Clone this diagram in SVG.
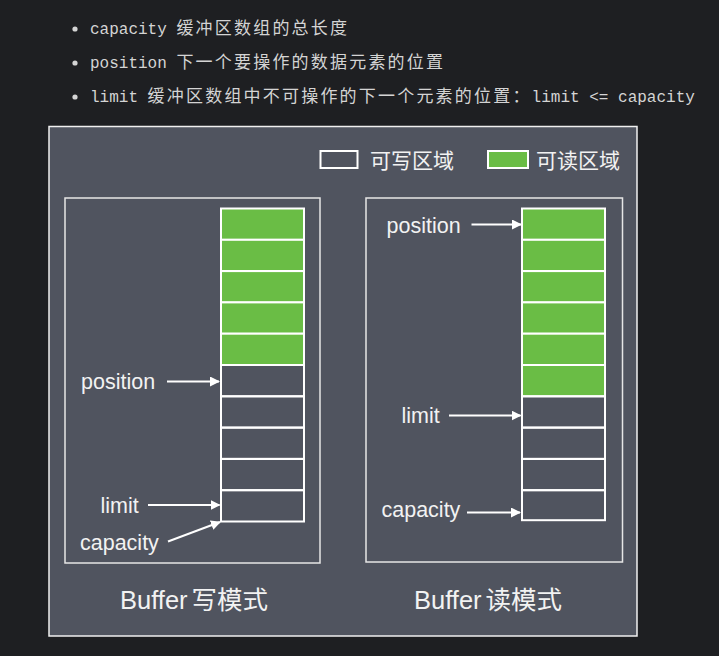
<svg xmlns="http://www.w3.org/2000/svg" width="719" height="656" viewBox="0 0 719 656">
<style>
.bul{font-family:"Liberation Mono","DejaVu Sans Mono",monospace;font-size:16px;fill:#d4d4d4}
.cjk{font-family:"Noto Sans CJK SC",sans-serif;font-size:17px;letter-spacing:2.2px}
.lbl{font-family:"Liberation Sans",Arial,sans-serif;font-size:21.5px;fill:#f2f2f2}
.ttl{font-family:"Liberation Sans",Arial,"Noto Sans CJK SC",sans-serif;font-size:25.5px;fill:#f2f2f2}
.ttlc{font-family:"Noto Sans CJK SC",sans-serif;font-size:25.5px}
.leg{font-family:"Noto Sans CJK SC",sans-serif;font-size:21px;fill:#f2f2f2}
.g{fill:#6abd45;stroke:#ffffff;stroke-width:2}
.e{fill:none;stroke:#ffffff;stroke-width:2}
.box{fill:none;stroke:#e6e6e6;stroke-width:1.5}
.arr{stroke:#ffffff;stroke-width:2;fill:none;marker-end:url(#ah)}
</style>
<defs>
<marker id="ah" viewBox="0 0 10 10" refX="9" refY="5" markerWidth="5" markerHeight="5" orient="auto" markerUnits="strokeWidth">
<path d="M0,0 L10,5 L0,10 z" fill="#ffffff"/>
</marker>
</defs>
<rect x="0" y="0" width="719" height="656" fill="#1e1f22"/>
<g id="bullets">
<circle cx="75" cy="29" r="2.6" fill="#d4d4d4"/>
<circle cx="75" cy="63" r="2.6" fill="#d4d4d4"/>
<circle cx="75" cy="97" r="2.6" fill="#d4d4d4"/>
<text class="bul" x="90" y="34">capacity <tspan class="cjk">缓冲区数组的总长度</tspan></text>
<text class="bul" x="90" y="68">position <tspan class="cjk">下一个要操作的数据元素的位置</tspan></text>
<text class="bul" x="90" y="102">limit <tspan class="cjk">缓冲区数组中不可操作的下一个元素的位置：</tspan>limit &lt;= capacity</text>
</g>
<g id="panel">
<rect x="49" y="126.5" width="588" height="509.5" fill="#50545f" stroke="#f0f0f0" stroke-width="1.5"/>
</g>
<g id="legend">
<rect x="320.5" y="151" width="37" height="17" fill="none" stroke="#ffffff" stroke-width="2"/>
<text class="leg" x="370" y="168">可写区域</text>
<rect x="488" y="151" width="40" height="17" class="g"/>
<text class="leg" x="536" y="168">可读区域</text>
</g>
<g id="write-mode">
<rect class="box" x="65" y="198" width="255" height="365"/>
<rect class="g" x="221" y="208.5" width="83" height="31.3"/>
<rect class="g" x="221" y="239.8" width="83" height="31.3"/>
<rect class="g" x="221" y="271.1" width="83" height="31.3"/>
<rect class="g" x="221" y="302.4" width="83" height="31.3"/>
<rect class="g" x="221" y="333.7" width="83" height="31.3"/>
<rect class="e" x="221" y="365" width="83" height="31.3"/>
<rect class="e" x="221" y="396.3" width="83" height="31.3"/>
<rect class="e" x="221" y="427.6" width="83" height="31.3"/>
<rect class="e" x="221" y="458.9" width="83" height="31.3"/>
<rect class="e" x="221" y="490.2" width="83" height="31.3"/>
<text class="lbl" x="81" y="389">position</text>
<text class="lbl" x="100.5" y="513">limit</text>
<text class="lbl" x="80" y="550">capacity</text>
<text class="ttl" x="120" y="609">Buffer<tspan class="ttlc" dx="4">写模式</tspan></text>
</g>
<g id="read-mode">
<rect class="box" x="366" y="198" width="256.5" height="364"/>
<rect class="g" x="522" y="208.5" width="83" height="31.3"/>
<rect class="g" x="522" y="239.8" width="83" height="31.3"/>
<rect class="g" x="522" y="271.1" width="83" height="31.3"/>
<rect class="g" x="522" y="302.4" width="83" height="31.3"/>
<rect class="g" x="522" y="333.7" width="83" height="31.3"/>
<rect class="g" x="522" y="365" width="83" height="31.3"/>
<rect class="e" x="522" y="396.3" width="83" height="31.3"/>
<rect class="e" x="522" y="427.6" width="83" height="31.3"/>
<rect class="e" x="522" y="458.9" width="83" height="31.3"/>
<rect class="e" x="522" y="490.2" width="83" height="30"/>
<text class="lbl" x="386.5" y="233">position</text>
<text class="lbl" x="401.5" y="422.5">limit</text>
<text class="lbl" x="381.5" y="517">capacity</text>
<text class="ttl" x="414" y="609">Buffer<tspan class="ttlc" dx="4">读模式</tspan></text>
</g>
<g id="connectors">
<line class="arr" x1="167" y1="381.5" x2="219" y2="381.5"/>
<line class="arr" x1="148" y1="505" x2="219.5" y2="505"/>
<line class="arr" x1="168" y1="541.5" x2="220" y2="522"/>
<line class="arr" x1="471.5" y1="224.5" x2="521" y2="224.5"/>
<line class="arr" x1="449" y1="415.5" x2="520.5" y2="415.5"/>
<line class="arr" x1="467" y1="512.5" x2="520" y2="512.5"/>
</g>
</svg>
